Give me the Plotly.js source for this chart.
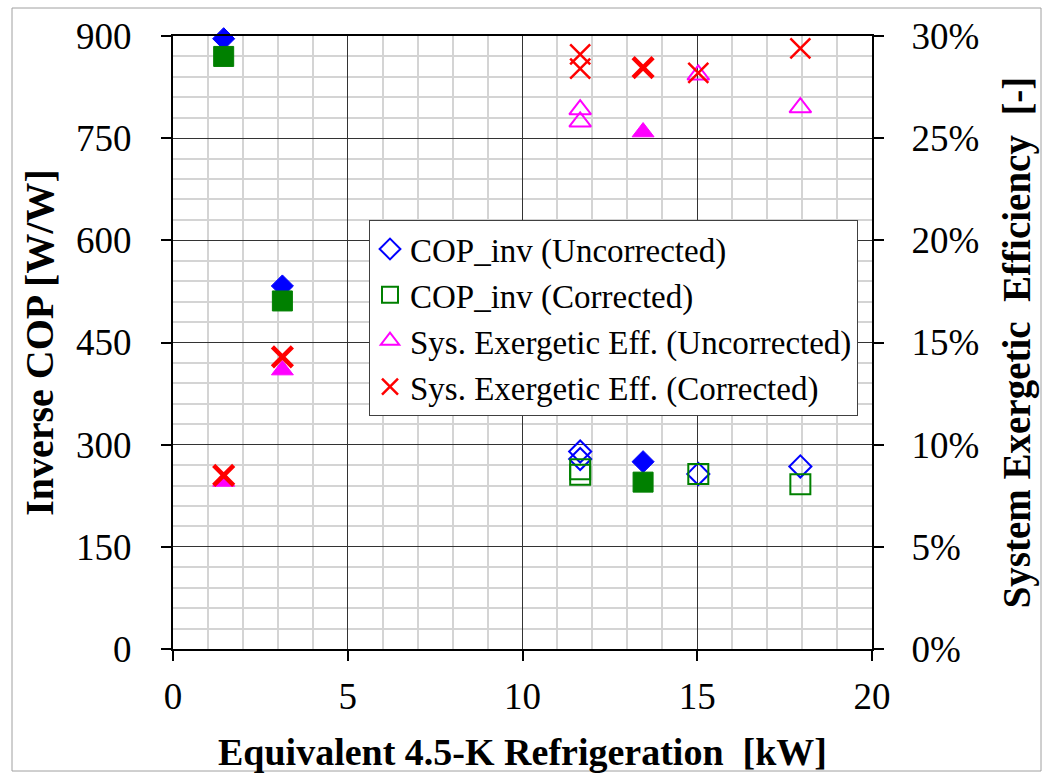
<!DOCTYPE html>
<html>
<head>
<meta charset="utf-8">
<script src="https://cdn.plot.ly/plotly-3.0.1.min.js"></script>
<style>html,body{margin:0;padding:0;background:#fff;}#chart{width:1044px;height:775px;}</style>
</head>
<body>
<div id="chart"></div>
<script>
// Equivalent 4.5-K refrigeration [kW] – highlighted (filled) tests
const refrigFilled = [1.45, 3.13, 13.45];
// other tests (open markers)
const refrigOpen = [11.65, 11.65, 15.03, 17.95];

// Inverse COP [W/W]
const copUncorrFilled = [896, 533, 275];
const copUncorrOpen = [290, 279, 257, 268];
const copCorrFilled = [870, 511, 245];
const copCorrOpen = [264, 256, 257, 242];

// System exergetic efficiency [-]
const effUncorrFilled = [0.082, 0.1365, 0.253];
const effUncorrOpen = [0.264, 0.258, 0.281, 0.265];
const effCorrFilled = [0.085, 0.143, 0.2845];
const effCorrOpen = [0.291, 0.284, 0.282, 0.294];

const seriesNames = [
  'COP_inv (Uncorrected)',
  'COP_inv (Corrected)',
  'Sys. Exergetic Eff. (Uncorrected)',
  'Sys. Exergetic Eff. (Corrected)'
];

const BLUE = '#0000ff', GREEN = '#008000', MAG = '#ff00ff', RED = '#ff0000';
const serif = 'Liberation Serif, Times New Roman, serif';

const traces = [
  // open markers (legend)
  {x: refrigOpen, y: copUncorrOpen, name: seriesNames[0], mode: 'markers', cliponaxis: false,
   marker: {symbol: 'diamond-open', size: 17, color: BLUE, line: {width: 2, color: BLUE}}},
  {x: refrigOpen, y: copCorrOpen, name: seriesNames[1], mode: 'markers', cliponaxis: false,
   marker: {symbol: 'square-open', size: 20, color: GREEN, line: {width: 2, color: GREEN}}},
  {x: refrigOpen, y: effUncorrOpen, name: seriesNames[2], mode: 'markers', yaxis: 'y2', cliponaxis: false,
   marker: {symbol: 'triangle-up-open', size: 19, color: MAG, line: {width: 2, color: MAG}}},
  {x: refrigOpen, y: effCorrOpen, name: seriesNames[3], mode: 'markers', yaxis: 'y2', cliponaxis: false,
   marker: {symbol: 'x-thin-open', size: 20, color: RED, line: {width: 2.5, color: RED}}},
  // filled markers
  {x: refrigFilled, y: copUncorrFilled, name: seriesNames[0], mode: 'markers', showlegend: false, cliponaxis: false,
   marker: {symbol: 'diamond', size: 17, color: BLUE, line: {width: 1, color: BLUE}}},
  {x: refrigFilled, y: copCorrFilled, name: seriesNames[1], mode: 'markers', showlegend: false, cliponaxis: false,
   marker: {symbol: 'square', size: 20, color: GREEN, line: {width: 1, color: GREEN}}},
  {x: refrigFilled, y: effUncorrFilled, name: seriesNames[2], mode: 'markers', yaxis: 'y2', showlegend: false, cliponaxis: false,
   marker: {symbol: 'triangle-up', size: 19, color: MAG, line: {width: 1, color: MAG}}},
  {x: refrigFilled, y: effCorrFilled, name: seriesNames[3], mode: 'markers', yaxis: 'y2', showlegend: false, cliponaxis: false,
   marker: {symbol: 'x-thin-open', size: 20, color: RED, line: {width: 4.5, color: RED}}}
];

const L = 173, R = 172, T = 36, B = 126;
const W = 1044 - L - R, H = 775 - T - B;
const px = v => (v - L) / W;
const py = v => (775 - B - v) / H;

const layout = {
  width: 1044, height: 775,
  margin: {l: L, r: R, t: T, b: B, pad: 0},
  paper_bgcolor: '#ffffff', plot_bgcolor: '#ffffff',
  font: {family: serif, color: '#000000', size: 37},
  showlegend: true,
  legend: {
    x: px(369), y: py(220), xanchor: 'left', yanchor: 'top',
    bgcolor: '#ffffff', bordercolor: '#404040', borderwidth: 1,
    font: {family: serif, size: 33, color: '#000000'},
    tracegroupgap: 0
  },
  xaxis: {
    range: [0, 20], dtick: 5, tick0: 0,
    showline: true, linecolor: '#000000', linewidth: 2, mirror: true,
    ticks: 'outside', ticklen: 10, tickwidth: 2, tickcolor: '#000000',
    ticklabelstandoff: 4,
    showgrid: true, gridcolor: '#333333', gridwidth: 1,
    minor: {dtick: 1, showgrid: true, gridcolor: '#d4d4d4', gridwidth: 2},
    zeroline: false,
    tickfont: {family: serif, size: 37},
    title: {text: 'Equivalent 4.5-K Refrigeration\u00a0 [kW]', font: {family: serif, size: 38, weight: 'bold'}, standoff: 22}
  },
  yaxis: {
    range: [0, 900], dtick: 150, tick0: 0,
    showline: true, linecolor: '#000000', linewidth: 2,
    ticks: 'outside', ticklen: 10, tickwidth: 2, tickcolor: '#000000',
    ticklabelstandoff: 22,
    showgrid: true, gridcolor: '#333333', gridwidth: 1,
    minor: {dtick: 30, showgrid: true, gridcolor: '#d4d4d4', gridwidth: 2},
    zeroline: false,
    tickfont: {family: serif, size: 37},
    title: {text: 'Inverse COP [W/W]', font: {family: serif, size: 40, weight: 'bold'}, standoff: 10}
  },
  yaxis2: {
    range: [0, 0.3], dtick: 0.05, tick0: 0, tickformat: '.0%',
    overlaying: 'y', side: 'right',
    showline: true, linecolor: '#000000', linewidth: 2,
    ticks: 'outside', ticklen: 10, tickwidth: 2, tickcolor: '#000000',
    ticklabelstandoff: 20,
    showgrid: false, zeroline: false,
    tickfont: {family: serif, size: 37},
    title: {text: 'System Exergetic\u00a0 Efficiency\u00a0 [-]', font: {family: serif, size: 39, weight: 'bold'}, standoff: 24}
  },
  shapes: [{
    type: 'rect', xref: 'paper', yref: 'paper',
    x0: px(12), x1: px(1041), y0: py(771), y1: py(8),
    line: {color: '#a0a0a0', width: 1}, fillcolor: 'rgba(0,0,0,0)', layer: 'below'
  }]
};

Plotly.newPlot('chart', traces, layout, {displayModeBar: false, staticPlot: true});
</script>
</body>
</html>
